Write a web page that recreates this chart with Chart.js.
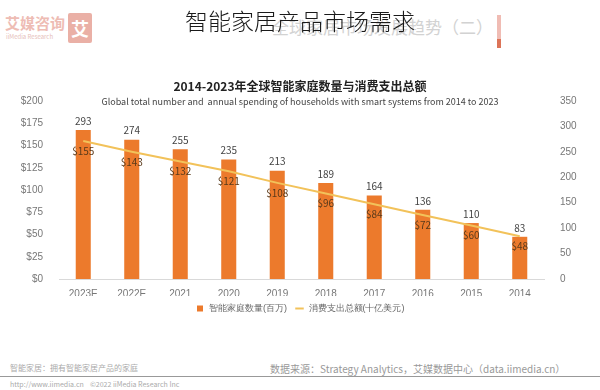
<!DOCTYPE html>
<html>
<head>
<meta charset="utf-8">
<script src="https://cdn.jsdelivr.net/npm/chart.js"></script>
<style>
  body { margin: 0; background: #fff; font-family: "Noto Sans CJK SC", "Noto Sans", sans-serif; }
  #wrap { position: relative; width: 600px; height: 390px; overflow: hidden; }
  #chart { position: absolute; left: 0; top: 0; }
  .abs { position: absolute; white-space: nowrap; }
</style>
</head>
<body>
<div id="wrap">
  <!-- faint header of the source image -->
  <div class="abs" style="left:5px;top:12px;font-size:15px;font-weight:bold;color:#eebcb4;">艾媒咨询</div>
  <div class="abs" style="left:6px;top:32px;font-size:6px;color:#e6c0ba;">iiMedia Research</div>
  <div class="abs" style="left:68px;top:13px;width:24px;height:30px;background:#eab0a6;border-radius:2px;color:#fff;font-size:18px;font-weight:bold;text-align:center;line-height:30px;">艾</div>
  <div class="abs" style="left:272px;top:14px;font-size:17px;color:#d2d2d2;">全球家居市场发展趋势（二）</div>
  <div class="abs" style="left:497px;top:15px;width:4px;height:24px;background:#f0bcb4;"></div>
  <div class="abs" style="left:497px;top:39px;width:4px;height:9px;background:#dc7458;"></div>

  <canvas id="chart" width="600" height="325"></canvas>

  <div class="abs" style="left:0;width:600px;top:3px;text-align:center;font-size:23px;color:#1a1a1a;font-weight:300;">智能家居产品市场需求</div>
  <div class="abs" style="left:0;width:600px;top:77px;text-align:center;font-size:12px;font-weight:bold;color:#222;">2014-2023年全球智能家庭数量与消费支出总额</div>
  <div class="abs" style="left:0;width:600px;top:95px;text-align:center;font-size:9px;color:#444;">Global total number and&nbsp; annual spending of households with smart systems from 2014 to 2023</div>

  <!-- faint footer -->
  <div class="abs" style="left:270px;top:361px;font-size:10px;color:#999;">数据来源：Strategy Analytics，艾媒数据中心（data.iimedia.cn）</div>
  <div class="abs" style="left:10px;top:362px;font-size:8px;color:#aaa;">智能家居：拥有智能家居产品的家庭</div>
  <div class="abs" style="left:0;top:376px;width:600px;height:1px;background:#999;"></div>
  <div class="abs" style="left:10px;top:379px;font-size:7px;color:#aaa;">http://www.iimedia.cn&nbsp;&nbsp;&nbsp;&nbsp;©2022 iiMedia Research Inc</div>
</div>

<script>
// categories in the order they appear in the picture (right to left in time)
const years = ['2023E', '2022E', '2021', '2020', '2019', '2018', '2017', '2016', '2015', '2014'];
// smart households, millions
const households = [293, 274, 255, 235, 213, 189, 164, 136, 110, 83];
// annual spending, billion USD
const spending = [155, 143, 132, 121, 108, 96, 84, 72, 60, 48];

const householdsLabel = '智能家庭数量(百万)';
const spendingLabel = '消费支出总额(十亿美元)';

// value labels on bars and line
const valueLabels = {
  id: 'valueLabels',
  afterDatasetsDraw(chart) {
    const ctx = chart.ctx;
    ctx.save();
    ctx.textAlign = 'center';
    ctx.font = '10px "Noto Sans CJK SC", sans-serif';
    chart.data.datasets.forEach((ds, i) => {
      const meta = chart.getDatasetMeta(i);
      meta.data.forEach((el, j) => {
        if (ds.type === 'bar') {
          ctx.fillStyle = '#444';
          ctx.textBaseline = 'bottom';
          ctx.fillText(ds.data[j], el.x, el.y - 4);
        } else {
          ctx.fillStyle = '#5a3a1a';
          ctx.textBaseline = 'middle';
          ctx.fillText('$' + ds.data[j], el.x, el.y + 10);
        }
      });
    });
    ctx.restore();
  }
};

new Chart(document.getElementById('chart'), {
  data: {
    labels: years,
    datasets: [
      {
        type: 'line',
        label: spendingLabel,
        data: spending,
        yAxisID: 'y',
        borderColor: '#f2c25a',
        backgroundColor: '#f2c25a',
        borderWidth: 2,
        pointRadius: 0,
        pointStyle: 'line',
        tension: 0
      },
      {
        type: 'bar',
        label: householdsLabel,
        data: households,
        yAxisID: 'y1',
        backgroundColor: '#ec7a2c',
        pointStyle: 'rect',
        categoryPercentage: 1,
        barPercentage: 0.31
      }
    ]
  },
  options: {
    responsive: false,
    animation: false,
    layout: { padding: { top: 101, left: 0, right: 0, bottom: 2 } },
    scales: {
      x: {
        grid: { display: false },
        border: { color: '#d9d9d9' },
        ticks: { color: '#777', font: { size: 10 }, padding: 1 },
        afterFit: s => { s.height = 17; }
      },
      y: {
        position: 'left',
        min: 0,
        max: 200,
        grid: { display: false },
        border: { display: false },
        ticks: {
          stepSize: 25,
          color: '#777',
          font: { size: 10 },
          padding: 8,
          callback: v => '$' + v
        },
        afterFit: s => { s.width = 59; }
      },
      y1: {
        position: 'right',
        min: 0,
        max: 350,
        grid: { display: false },
        border: { display: false },
        ticks: { stepSize: 50, color: '#777', font: { size: 10 }, padding: 8 },
        afterFit: s => { s.width = 56; }
      }
    },
    plugins: {
      legend: {
        position: 'bottom',
        reverse: true,
        labels: {
          usePointStyle: true,
          boxWidth: 14,
          boxHeight: 6,
          color: '#666',
          font: { size: 9 },
          padding: 8
        }
      },
      tooltip: { enabled: false }
    }
  },
  plugins: [valueLabels]
});
</script>
</body>
</html>
